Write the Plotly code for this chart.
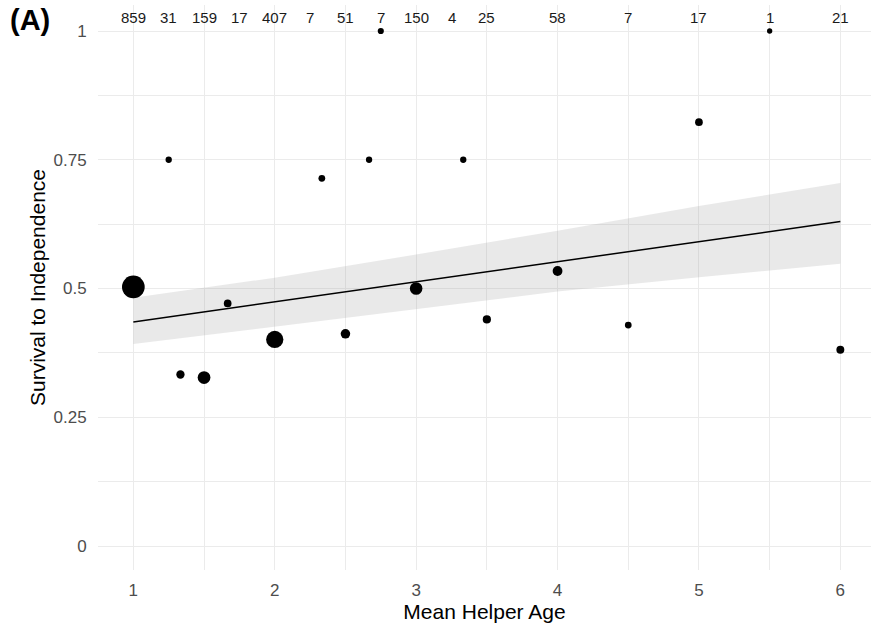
import plotly.graph_objects as go
import numpy as np

# Point data (mean helper age, survival proportion, number of broods)
age = [1.0, 1.25, 1.333, 1.5, 1.667, 2.0, 2.333, 2.5, 2.667, 2.75, 3.0, 3.333, 3.5, 4.0, 4.5, 5.0, 5.5, 6.0]
survival = [0.503, 0.75, 0.333, 0.327, 0.471, 0.401, 0.714, 0.412, 0.75, 1.0, 0.50, 0.75, 0.44, 0.534, 0.429, 0.823, 1.0, 0.381]
n_obs = [859, 4, 27, 159, 17, 407, 7, 51, 4, 3, 150, 4, 25, 58, 7, 17, 1, 21]

# Fitted line and confidence ribbon
fit_x = [1, 2, 3, 4, 5, 6]
fit_y = [0.435, 0.474, 0.512, 0.552, 0.591, 0.630]
fit_lo = [0.392, 0.425, 0.460, 0.494, 0.522, 0.548]
fit_hi = [0.482, 0.521, 0.566, 0.612, 0.660, 0.705]

# Sample size labels along the top
label_x = [1, 1.25, 1.5, 1.75, 2, 2.25, 2.5, 2.75, 3, 3.25, 3.5, 4, 4.5, 5, 5.5, 6]
label_n = [859, 31, 159, 17, 407, 7, 51, 7, 150, 4, 25, 58, 7, 17, 1, 21]

x_ticks = [1, 2, 3, 4, 5, 6]
y_ticks = [0, 0.25, 0.5, 0.75, 1]
y_ticktext = ["0", "0.25", "0.5", "0.75", "1"]

FONT = "Arial, Liberation Sans, sans-serif"
GRID = "#EBEBEB"

# ggplot-like area size scale
nmin, nmax = min(n_obs), max(n_obs)
dmin, dmax = 5.3, 22.7
sizes = [dmin + (dmax - dmin) * np.sqrt((v - nmin) / (nmax - nmin)) for v in n_obs]

plot_l, plot_r, plot_t, plot_b = 98, 0, 5, 55
W, H = 871, 625
pw = W - plot_l - plot_r
ph = H - plot_t - plot_b

fig = go.Figure()

fig.add_trace(go.Scatter(
    x=fit_x + fit_x[::-1],
    y=fit_hi + fit_lo[::-1],
    fill="toself",
    fillcolor="rgba(153,153,153,0.22)",
    line=dict(width=0),
    mode="lines",
    hoverinfo="skip",
    showlegend=False,
))

fig.add_trace(go.Scatter(
    x=fit_x, y=fit_y, mode="lines",
    line=dict(color="black", width=1.5),
    showlegend=False,
))

fig.add_trace(go.Scatter(
    x=age, y=survival, mode="markers", opacity=1,
    marker=dict(color="#000000", opacity=1, size=sizes, sizemode="diameter",
                line=dict(width=0, color="#000000")),
    showlegend=False, cliponaxis=False,
))

for lx, ln in zip(label_x, label_n):
    fig.add_annotation(
        x=lx, y=1.027, xref="x", yref="y", text=str(ln), showarrow=False,
        font=dict(family=FONT, size=15, color="#1a1a1a"),
        xanchor="center", yanchor="middle",
    )

fig.add_annotation(
    x=(30 - plot_l) / pw, y=1 - (20 - plot_t) / ph, xref="paper", yref="paper",
    text="<b>(A)</b>", showarrow=False,
    font=dict(family=FONT, size=29, color="black"),
    xanchor="center", yanchor="middle",
)

fig.update_layout(
    width=W, height=H,
    margin=dict(l=plot_l, r=plot_r, t=plot_t, b=plot_b),
    plot_bgcolor="white", paper_bgcolor="white",
    font=dict(family=FONT),
    xaxis=dict(
        range=[0.75, 0.75 + pw / 141.4],
        tickvals=x_ticks, ticktext=[str(v) for v in x_ticks],
        showgrid=True, gridcolor=GRID, gridwidth=1.2,
        minor=dict(tickvals=[1.5, 2.5, 3.5, 4.5, 5.5], showgrid=True, gridcolor=GRID, gridwidth=0.7),
        zeroline=False, showline=False,
        ticks="outside", ticklen=5, tickcolor="rgba(0,0,0,0)",
        tickfont=dict(family=FONT, size=17, color="#4D4D4D"),
        title=dict(text="Mean Helper Age", font=dict(family=FONT, size=21, color="black"), standoff=0),
    ),
    yaxis=dict(
        range=[-0.0466, 1.0505],
        tickvals=y_ticks, ticktext=y_ticktext,
        showgrid=True, gridcolor=GRID, gridwidth=1.2,
        minor=dict(tickvals=[0.125, 0.375, 0.625, 0.875], showgrid=True, gridcolor=GRID, gridwidth=0.7),
        zeroline=False, showline=False,
        ticks="outside", ticklen=7, tickcolor="rgba(0,0,0,0)",
        tickfont=dict(family=FONT, size=17, color="#4D4D4D"),
        title=dict(text="Survival to Independence", font=dict(family=FONT, size=21, color="black"), standoff=2),
    ),
)

fig.write_html(
    "out.html",
    config={"displayModeBar": False},
    post_script="document.body.style.margin='0';document.body.style.padding='0';",
)
